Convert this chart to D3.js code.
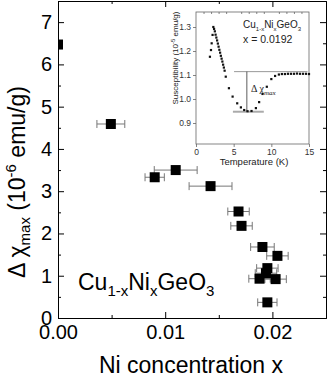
<!DOCTYPE html>
<html>
<head>
<meta charset="utf-8">
<script src="https://cdn.jsdelivr.net/npm/d3@7"></script>
<style>
  body { margin: 0; background: #fff; }
  svg { display: block; font-family: Arial, "Liberation Sans", sans-serif; }
</style>
</head>
<body>
<svg id="chart" width="327" height="377"></svg>
<script>
// main panel: Ni concentration vs delta chi max
const niConc   = [0.0, 0.00493, 0.00902, 0.01098, 0.01423, 0.01684, 0.01712, 0.01907, 0.02047, 0.01953, 0.0194, 0.0188, 0.0203, 0.01953];
const niErr    = [0.0, 0.0013, 0.0009, 0.002, 0.002, 0.001, 0.001, 0.0011, 0.001, 0.001, 0.001, 0.001, 0.001, 0.0009];
const deltaChi = [6.47, 4.59, 3.33, 3.50, 3.12, 2.52, 2.18, 1.68, 1.47, 1.18, 1.06, 0.93, 0.92, 0.37];
const xTicks = [0, 0.01, 0.02];
const xMinor = [0.005, 0.015];
const yTicks = [0, 1, 2, 3, 4, 5, 6, 7];
const yMinor = [0.5, 1.5, 2.5, 3.5, 4.5, 5.5, 6.5, 7.5];

// inset: susceptibility vs temperature for x = 0.0192
const insetT = [1.85, 1.99, 2.08, 2.2, 2.3, 2.4, 2.5,
  2.6, 2.7, 2.8, 2.9, 3.0, 3.1, 3.2, 3.3, 3.4, 3.5, 3.6, 3.7, 3.8, 3.95,
  4.37, 4.86, 5.47, 5.96, 6.4, 6.84, 7.37, 7.95, 8.38, 8.83, 9.4, 10.0, 10.5,
  11.0, 11.4, 11.8, 12.2, 12.6, 13.0, 13.4, 13.8, 14.2, 14.6, 15.0];
const insetChi = [1.176, 1.204, 1.232, 1.267, 1.300, 1.292, 1.282,
  1.268, 1.256, 1.244, 1.231, 1.218, 1.205, 1.193, 1.180, 1.168, 1.156, 1.143, 1.131, 1.118, 1.093,
  1.045, 1.010, 0.982, 0.965, 0.954, 0.949, 0.950, 0.962, 0.987, 1.021, 1.051, 1.083, 1.096,
  1.102, 1.104, 1.104, 1.105, 1.105, 1.105, 1.106, 1.105, 1.105, 1.105, 1.104];
const insetXTicks = [0, 5, 10, 15];
const insetXMinor = [1, 2, 3, 4, 6, 7, 8, 9, 11, 12, 13, 14];
const insetYTicks = [0.9, 1.0, 1.1, 1.2, 1.3];
const chiHigh = 1.114, chiLow = 0.947, tMark = 6.75;

const margin = { top: 1, right: 1, bottom: 59, left: 58 };
const width = 327 - margin.left - margin.right;
const height = 377 - margin.top - margin.bottom;

const svg = d3.select("#chart");

const x = d3.scaleLinear().domain([0, 0.025]).range([margin.left, margin.left + width]);
const y = d3.scaleLinear().domain([0, 7.5]).range([margin.top + height, margin.top]);

svg.append("defs").append("clipPath").attr("id", "plotclip")
  .append("rect")
  .attr("x", margin.left).attr("y", margin.top)
  .attr("width", width).attr("height", height);

// axes with inward ticks
function styleAxis(g) {
  g.selectAll("path.domain").attr("stroke", "#000").attr("stroke-width", 1);
  g.selectAll(".tick line").attr("stroke", "#000");
  g.selectAll("text").attr("fill", "#000").attr("font-family", "Arial, 'Liberation Sans', sans-serif");
}

svg.append("g")
  .attr("transform", `translate(0,${margin.top + height})`)
  .call(d3.axisBottom(x).tickValues(xTicks).tickFormat(d3.format(".2f")).tickSizeInner(-6).tickSizeOuter(0).tickPadding(7))
  .call(styleAxis)
  .selectAll("text").attr("font-size", 20);
svg.append("g")
  .attr("transform", `translate(0,${margin.top + height})`)
  .call(d3.axisBottom(x).tickValues(xMinor).tickFormat("").tickSizeInner(-3).tickSizeOuter(0))
  .call(styleAxis);
svg.append("g")
  .attr("transform", `translate(0,${margin.top})`)
  .call(d3.axisTop(x).tickValues(xTicks).tickFormat("").tickSizeInner(-6).tickSizeOuter(0))
  .call(styleAxis);
svg.append("g")
  .attr("transform", `translate(0,${margin.top})`)
  .call(d3.axisTop(x).tickValues(xMinor).tickFormat("").tickSizeInner(-3).tickSizeOuter(0))
  .call(styleAxis);

svg.append("g")
  .attr("transform", `translate(${margin.left},0)`)
  .call(d3.axisLeft(y).tickValues(yTicks).tickFormat(d3.format("d")).tickSizeInner(-6).tickSizeOuter(0).tickPadding(6))
  .call(styleAxis)
  .selectAll("text").attr("font-size", 20);
svg.append("g")
  .attr("transform", `translate(${margin.left},0)`)
  .call(d3.axisLeft(y).tickValues(yMinor).tickFormat("").tickSizeInner(-3).tickSizeOuter(0))
  .call(styleAxis);
svg.append("g")
  .attr("transform", `translate(${margin.left + width},0)`)
  .call(d3.axisRight(y).tickValues(yTicks).tickFormat("").tickSizeInner(-6).tickSizeOuter(0))
  .call(styleAxis);
svg.append("g")
  .attr("transform", `translate(${margin.left + width},0)`)
  .call(d3.axisRight(y).tickValues(yMinor).tickFormat("").tickSizeInner(-3).tickSizeOuter(0))
  .call(styleAxis);

// axis titles
svg.append("text")
  .attr("x", 191).attr("y", 373)
  .attr("text-anchor", "middle")
  .attr("font-size", 23)
  .text("Ni concentration x");

const ylab = svg.append("text")
  .attr("transform", "translate(25,182) rotate(-90)")
  .attr("text-anchor", "middle")
  .attr("font-size", 23);
ylab.append("tspan").text("\u0394 \u03c7");
ylab.append("tspan").attr("font-size", 15).attr("dy", 5).text("max");
ylab.append("tspan").attr("dy", -5).text(" (10");
ylab.append("tspan").attr("font-size", 15).attr("dy", -9).text("-6");
ylab.append("tspan").attr("dy", 9).text(" emu/g)");

// compound label
const comp = svg.append("text").attr("x", 78).attr("y", 290).attr("font-size", 23);
comp.append("tspan").text("Cu");
comp.append("tspan").attr("font-size", 15).attr("dy", 6).text("1-x");
comp.append("tspan").attr("dy", -6).text("Ni");
comp.append("tspan").attr("font-size", 15).attr("dy", 6).text("x");
comp.append("tspan").attr("dy", -6).text("GeO");
comp.append("tspan").attr("font-size", 15).attr("dy", 6).text("3");

// data with error bars
const points = niConc.map((d, i) => ({ x: d, e: niErr[i], y: deltaChi[i] }));
const plot = svg.append("g").attr("clip-path", "url(#plotclip)");

const err = plot.append("g").attr("stroke", "#777").attr("stroke-width", 1);
points.filter(d => d.e > 0).forEach(d => {
  err.append("line")
    .attr("x1", x(d.x - d.e)).attr("x2", x(d.x + d.e))
    .attr("y1", y(d.y)).attr("y2", y(d.y));
  [d.x - d.e, d.x + d.e].forEach(v => {
    err.append("line")
      .attr("x1", x(v)).attr("x2", x(v))
      .attr("y1", y(d.y) - 4).attr("y2", y(d.y) + 4);
  });
});

plot.selectAll("rect.pt")
  .data(points)
  .join("rect")
  .attr("class", "pt")
  .attr("x", d => x(d.x) - 5)
  .attr("y", d => y(d.y) - 5)
  .attr("width", 10)
  .attr("height", 10)
  .attr("fill", "#000");

// ---- inset ----
const ix = d3.scaleLinear().domain([0, 15]).range([196, 309]);
const iy = d3.scaleLinear().domain([0.8125, 1.3625]).range([144, 12]);
const inset = svg.append("g");
const insetGrey = "#666";

inset.append("rect")
  .attr("x", 196).attr("y", 12).attr("width", 113).attr("height", 132)
  .attr("fill", "#fff").attr("stroke", insetGrey).attr("stroke-width", 0.8);

function styleInset(g) {
  g.selectAll("path.domain").remove();
  g.selectAll(".tick line").attr("stroke", insetGrey).attr("stroke-width", 0.8);
  g.selectAll("text").attr("fill", "#333").attr("font-size", 8.5);
}

inset.append("g")
  .attr("transform", "translate(0,144)")
  .call(d3.axisBottom(ix).tickValues(insetXTicks).tickFormat(d3.format("d")).tickSize(3).tickPadding(2))
  .call(styleInset);
inset.append("g")
  .attr("transform", "translate(0,12)")
  .call(d3.axisTop(ix).tickValues(insetXMinor).tickFormat("").tickSize(-2))
  .call(styleInset);
inset.append("g")
  .attr("transform", "translate(196,0)")
  .call(d3.axisLeft(iy).tickValues(insetYTicks).tickFormat(d3.format(".1f")).tickSize(3).tickPadding(2))
  .call(styleInset);

inset.append("text")
  .attr("x", 254).attr("y", 165)
  .attr("text-anchor", "middle")
  .attr("font-size", 9.5).attr("fill", "#222")
  .text("Temperature (K)");

const iyl = inset.append("text")
  .attr("transform", "translate(178,58) rotate(-90)")
  .attr("text-anchor", "middle")
  .attr("font-size", 8).attr("fill", "#222");
iyl.append("tspan").text("Susceptibility (10");
iyl.append("tspan").attr("font-size", 6).attr("dy", -3).text("-5");
iyl.append("tspan").attr("dy", 3).text(" emu/g)");

// delta chi construction lines
inset.append("line")
  .attr("x1", ix(5.05)).attr("x2", ix(14.8))
  .attr("y1", iy(chiHigh)).attr("y2", iy(chiHigh))
  .attr("stroke", "#999").attr("stroke-width", 1);
inset.append("line")
  .attr("x1", ix(4.9)).attr("x2", ix(9.0))
  .attr("y1", iy(chiLow)).attr("y2", iy(chiLow))
  .attr("stroke", "#aaa").attr("stroke-width", 2);
inset.append("line")
  .attr("x1", ix(tMark)).attr("x2", ix(tMark))
  .attr("y1", iy(chiHigh)).attr("y2", iy(chiLow))
  .attr("stroke", "#333").attr("stroke-width", 0.8);

inset.selectAll("rect.dot")
  .data(insetT.map((t, i) => ({ t, c: insetChi[i] })))
  .join("rect")
  .attr("class", "dot")
  .attr("x", d => ix(d.t) - 1.1)
  .attr("y", d => iy(d.c) - 1.1)
  .attr("width", 2.2).attr("height", 2.2)
  .attr("fill", "#111");

const dl = inset.append("text")
  .attr("x", 251).attr("y", 92)
  .attr("font-family", "'Liberation Serif', 'DejaVu Serif', serif")
  .attr("font-size", 10).attr("fill", "#222");
dl.append("tspan").text("\u0394\u2009\u03c7");
dl.append("tspan").attr("font-size", 7).attr("font-style", "italic").attr("dy", 3).text("max");

const il = inset.append("text").attr("x", 243).attr("y", 28).attr("font-size", 10).attr("fill", "#222");
il.append("tspan").text("Cu");
il.append("tspan").attr("font-size", 6).attr("dy", 3).text("1-x");
il.append("tspan").attr("dy", -3).text("Ni");
il.append("tspan").attr("font-size", 6).attr("dy", 3).text("x");
il.append("tspan").attr("dy", -3).text("GeO");
il.append("tspan").attr("font-size", 6).attr("dy", 3).text("3");

inset.append("text").attr("x", 243).attr("y", 43)
  .attr("font-size", 10.5).attr("fill", "#222")
  .text("x = 0.0192");
</script>
</body>
</html>
